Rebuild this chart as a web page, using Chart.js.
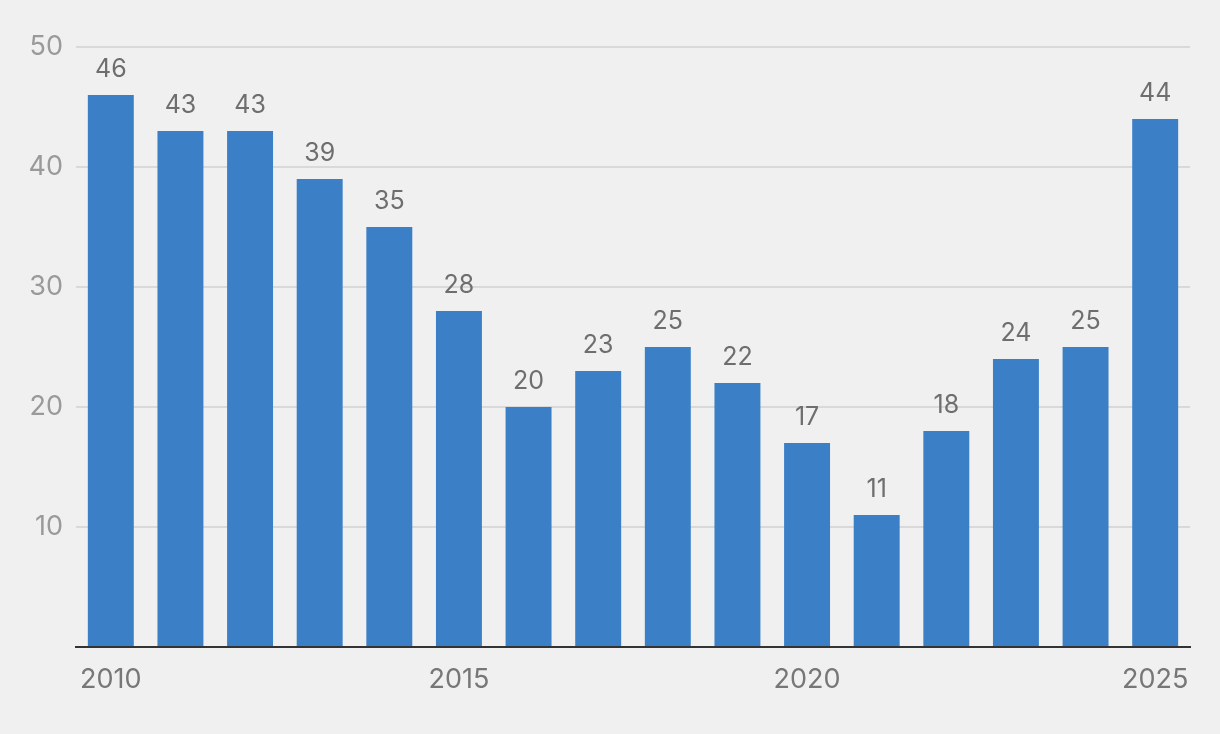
<!DOCTYPE html>
<html>
<head>
<meta charset="utf-8">
<script src="https://cdn.jsdelivr.net/npm/chart.js@4/dist/chart.umd.min.js"></script>
<style>
  html,body{margin:0;padding:0;background:#f0f0f0;}
  #wrap{width:1220px;height:734px;}
</style>
</head>
<body>
<div id="wrap"><canvas id="chart"></canvas></div>
<script>
const years = [2010,2011,2012,2013,2014,2015,2016,2017,2018,2019,2020,2021,2022,2023,2024,2025];
const values = [46,43,43,39,35,28,20,23,25,22,17,11,18,24,25,44];
const yTicks = [10,20,30,40,50];
const xTicksShown = [2010,2015,2020,2025];

// value labels above each bar
const valueLabels = {
  id:'valueLabels',
  afterDatasetsDraw(chart){
    const ctx = chart.ctx;
    const meta = chart.getDatasetMeta(0);
    ctx.save();
    ctx.font = '400 25px Inter';
    ctx.fillStyle = '#6e6e6e';
    ctx.textAlign = 'center';
    ctx.textBaseline = 'bottom';
    meta.data.forEach((bar,i)=>{
      ctx.fillText(String(values[i]), bar.x, bar.y - 13);
    });
    ctx.restore();
  }
};

const ctx = document.getElementById('chart').getContext('2d');
new Chart(ctx, {
  type:'bar',
  data:{labels: years.map(String), datasets:[{data:values, backgroundColor:'#3b7fc7', barPercentage:0.66, categoryPercentage:1}]},
  options:{
    responsive:true, maintainAspectRatio:false, animation:false,
    layout:{padding:{top:47, right:30, bottom:0, left:0}},
    plugins:{legend:{display:false}, tooltip:{enabled:false}},
    scales:{
      x:{
        grid:{display:false},
        border:{display:true, color:'#333333', width:2},
        ticks:{
          autoSkip:false, maxRotation:0, padding:9, color:'#777777',
          font:{family:'Inter', size:27},
          callback:(v,i)=> xTicksShown.includes(years[i]) ? String(years[i]) : ''
        },
        afterFit(s){ s.height = 87; }
      },
      y:{
        min:0, max:50,
        border:{display:false},
        grid:{color:(c)=> c.tick && c.tick.value===0 ? 'rgba(0,0,0,0)' : '#d9d9d9', lineWidth:2, drawTicks:false},
        ticks:{
          stepSize:10, padding:13, color:'#9a9a9a',
          font:{family:'Inter', size:27},
          callback:(v)=> yTicks.includes(v) ? String(v) : ''
        },
        afterFit(s){ s.width = 76; }
      }
    }
  },
  plugins:[valueLabels]
});
</script>
</body>
</html>
